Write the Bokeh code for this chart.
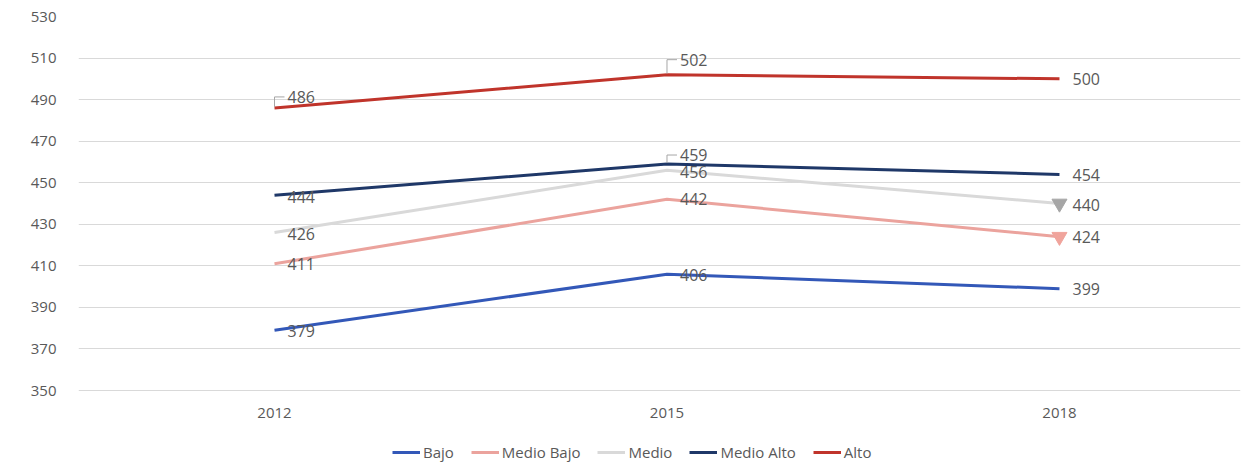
from bokeh.plotting import figure
from bokeh.models import (Range1d, FixedTicker, Legend, LegendItem, ColumnDataSource)
from bokeh.core.properties import value
from bokeh.embed import file_html
from bokeh.resources import INLINE

years = [2012, 2015, 2018]
tick_labels = ["2012", "2015", "2018"]
series_names = ["Bajo", "Medio Bajo", "Medio", "Medio Alto", "Alto"]
bajo = [379, 406, 399]
medio_bajo = [411, 442, 424]
medio = [426, 456, 440]
medio_alto = [444, 459, 454]
alto = [486, 502, 500]
y_ticks = [350, 370, 390, 410, 430, 450, 470, 490, 510, 530]

series = [bajo, medio_bajo, medio, medio_alto, alto]
colors = ["#3358B8", "#EBA39D", "#D9D9D9", "#1F3868", "#C0342B"]
# label vertical offsets in px (negative = up), per series per year
label_dy = [[1, 1, 0], [0, 0, 0], [1, 2, 1], [2, -9, 1], [-11, -15, 0]]
# which labels have a leader line
leader = [[False, False, False], [False, False, False], [False, False, False],
          [False, True, False], [True, True, False]]
# down-triangle markers at last point
marker_color = [None, "#F0A49C", "#A6A6A6", None, None]

FONT = "Open Sans"
TXT = "#595959"

px_per_year = 130.83
px_per_unit = 374 / 180.0
y_min, y_max = y_ticks[0], y_ticks[-1]
bottom_px = 73  # space below the lowest gridline for category labels and legend

p = figure(frame_width=1162, frame_height=374 + bottom_px, output_backend="svg",
           toolbar_location=None,
           x_range=Range1d(2012 - 196 / px_per_year, 2012 - 196 / px_per_year + 1162 / px_per_year),
           y_range=Range1d(y_min - bottom_px / px_per_unit, y_max),
           min_border_left=78, min_border_right=12, min_border_top=16, min_border_bottom=0)
p.outline_line_color = None
p.background_fill_color = "white"
p.border_fill_color = "white"

p.xgrid.grid_line_color = None
p.ygrid.grid_line_color = "#D9D9D9"
p.ygrid.grid_line_width = 1
p.yaxis.ticker = FixedTicker(ticks=y_ticks)
p.xaxis.visible = False
ax = p.yaxis
ax.axis_line_color = None
ax.major_tick_line_color = None
ax.minor_tick_line_color = None
ax.major_label_text_color = TXT
ax.major_label_text_font = FONT
ax.major_label_text_font_size = "15px"
p.yaxis.major_label_standoff = 16

# category labels under the lowest gridline
p.text(x=years, y=[y_min] * len(years), text=tick_labels, y_offset=22,
       text_font=value(FONT), text_font_size="15px", text_color=TXT,
       text_align="center", text_baseline="middle")

items = []
for name, vals, col in zip(series_names, series, colors):
    r = p.line(years, vals, line_color=col, line_width=3)
    items.append(LegendItem(label=name, renderers=[r]))

for vals, mc in zip(series, marker_color):
    if mc:
        p.scatter([years[-1]], [vals[-1]], marker="inverted_triangle", size=15,
                  fill_color=mc, line_color=mc)

# leader lines
lx0, ly0, lx1, ly1 = [], [], [], []
for vals, dys, lds in zip(series, label_dy, leader):
    for yr, v, dy, ld in zip(years, vals, dys, lds):
        if ld:
            top = v - (dy) / px_per_unit
            lx0 += [yr, yr]
            ly0 += [v + 1 / px_per_unit, top]
            lx1 += [yr, yr + 10 / px_per_year]
            ly1 += [top, top]
p.segment(lx0, ly0, lx1, ly1, line_color="#A6A6A6", line_width=1)

tx, ty, tt, toff = [], [], [], []
for vals, dys in zip(series, label_dy):
    for yr, v, dy in zip(years, vals, dys):
        tx.append(yr); ty.append(v); tt.append(str(v)); toff.append(dy)
src = ColumnDataSource(dict(x=tx, y=ty, t=tt, dy=toff))
p.text(x="x", y="y", text="t", source=src, x_offset=13, y_offset="dy",
       text_font=value(FONT), text_font_size="16px", text_color=TXT,
       text_baseline="middle", text_align="left")

legend = Legend(items=items, orientation="horizontal", location=(314, 1),
                glyph_width=28, glyph_height=16, label_standoff=3, spacing=17,
                padding=0, margin=0, border_line_alpha=0, background_fill_alpha=0,
                label_text_font=FONT, label_text_font_size="15px", label_text_color=TXT)
p.add_layout(legend, "center")

open("out.html", "w").write(file_html(p, INLINE))
